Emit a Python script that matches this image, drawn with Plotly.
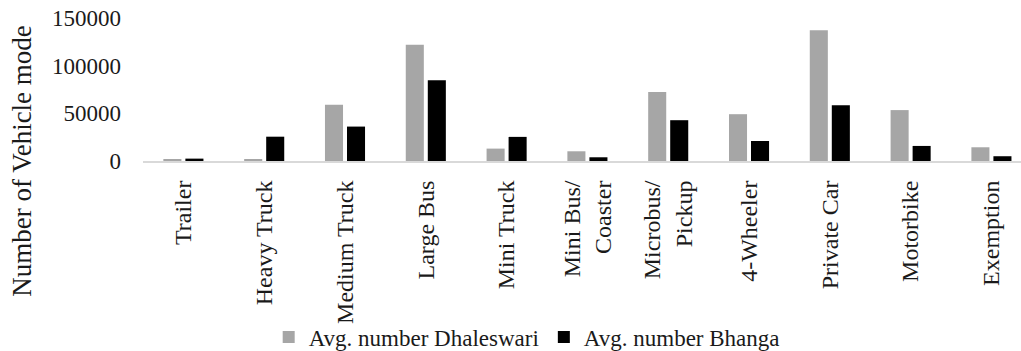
import plotly.graph_objects as go

# Vehicle categories and average daily counts at each bridge
NB = "\u00a0"
categories = ["Trailer", "Heavy Truck", "Medium Truck", "Large Bus", "Mini Truck",
              "Mini Bus/<br>" + NB * 2 + "Coaster", "Microbus/<br>" + NB * 3 + "Pickup",
              "4-Wheeler", "Private Car", "Motorbike", "Exemption"]
dhaleswari = [2000, 1500, 59000, 122000, 13000, 10200, 72300, 49100, 137200, 53400, 14400]
bhanga = [2500, 25500, 36100, 84600, 25300, 3900, 42800, 21000, 58600, 15800, 5000]

y_ticks = [0, 50000, 100000, 150000]

FONT = "Liberation Serif"
INK = "#1a1a1a"

fig = go.Figure()
fig.add_trace(go.Bar(x=categories, y=dhaleswari, name="Avg. number Dhaleswari",
                     marker=dict(color="#a6a6a6", line=dict(width=0))))
fig.add_trace(go.Bar(x=categories, y=bhanga, name="Avg. number Bhanga",
                     marker=dict(color="#000000", line=dict(width=0))))

fig.update_layout(
    width=1021, height=351,
    margin=dict(l=143, r=0, t=18, b=190, autoexpand=False),
    paper_bgcolor="white", plot_bgcolor="white",
    barmode="group", bargap=0.455, bargroupgap=0.18,
    font=dict(family=FONT, size=22, color=INK),
    showlegend=True,
    legend=dict(orientation="h", x=0.437, xanchor="center",
                yref="container", y=0.04, yanchor="middle",
                font=dict(family=FONT, size=23, color=INK),
                itemwidth=30, tracegroupgap=0, bgcolor="rgba(0,0,0,0)"),
    xaxis=dict(
        range=[-0.5, 10.366], showgrid=False, zeroline=False,
        showline=True, linecolor="#d9d9d9", linewidth=2,
        tickangle=-90, ticks="", ticklabelstandoff=8,
        tickfont=dict(family=FONT, size=24, color=INK),
    ),
    yaxis=dict(
        range=[0, 150000], tickvals=y_ticks, ticktext=[str(v) for v in y_ticks],
        showgrid=False, zeroline=False, showline=False, ticks="",
        ticklabelstandoff=21,
        tickfont=dict(family=FONT, size=23, color=INK),
    ),
    annotations=[dict(
        text="Number of Vehicle mode", textangle=-90,
        xref="paper", yref="paper", x=-0.138, y=0.0, xanchor="center", yanchor="middle",
        showarrow=False, font=dict(family=FONT, size=27, color=INK),
    )],
)

fig.write_html("out.html")
